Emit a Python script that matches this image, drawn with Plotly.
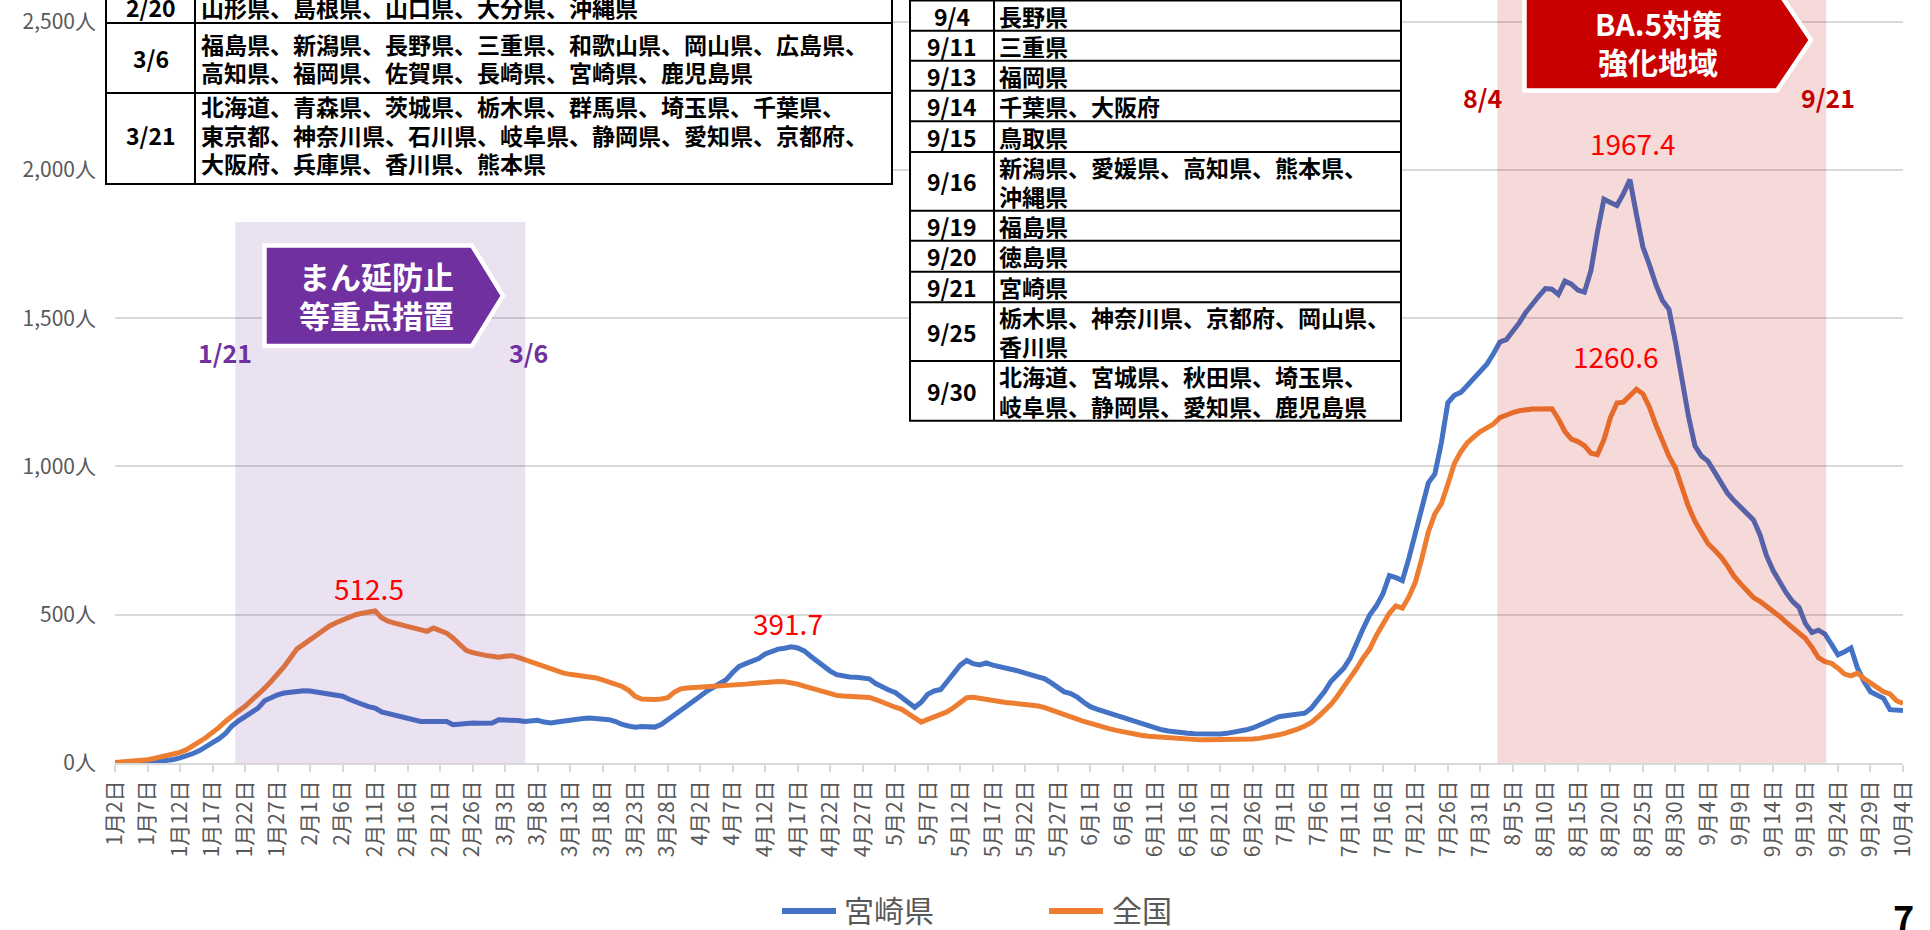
import pandas as pd
import plotly.graph_objects as go

# ---------------- data ----------------
START_DATE = "2022-01-02"
END_DATE = "2022-10-04"
TICK_STEP = 5

SERIES_NAMES = ["宮崎県", "全国"]
SERIES_COLORS = ["#4472C4", "#ED7D31"]

MIYAZAKI = [
    0, 0, 1, 1, 2, 3, 4, 6, 8, 12,
    17, 23, 32, 42, 54, 67, 82, 100, 125, 142,
    157, 170, 185, 210, 222, 230, 236, 240, 243, 244,
    243, 240, 236, 232, 228, 225, 215, 205, 198, 190,
    185, 172, 166, 164, 157, 148, 143, 140, 140, 140,
    141, 140, 129, 132, 134, 135, 134, 133, 135, 146,
    146, 146, 143, 140, 141, 144, 138, 135, 138, 142,
    144, 147, 150, 152, 151, 149, 146, 140, 130, 125,
    121, 123, 121, 121, 130, 145, 160, 175, 191, 205,
    225, 242, 255, 268, 281, 305, 326, 335, 343, 352,
    368, 378, 384, 387, 391.7, 388, 378, 360, 343, 325,
    310, 298, 292, 290, 289, 287, 284, 268, 255, 246,
    238, 222, 205, 188, 205, 232, 243, 248, 275, 303,
    330, 346, 335, 331, 338, 330, 325, 322, 318, 310,
    303, 296, 290, 284, 270, 255, 240, 234, 222, 205,
    190, 182, 175, 167, 160, 152, 145, 137, 129, 122,
    117, 112, 108, 104, 101, 100, 99, 98, 98, 98,
    98, 100, 103, 107, 112, 118, 128, 140, 148, 156,
    159, 161, 163, 168, 185, 210, 240, 275, 300, 320,
    355, 410, 455, 500, 530, 570, 632, 625, 615, 690,
    775, 870, 945, 975, 1080, 1215, 1240, 1250, 1275, 1295,
    1320, 1345, 1380, 1420, 1428, 1455, 1485, 1520, 1550, 1575,
    1600, 1598, 1580, 1625, 1615, 1595, 1588, 1660, 1790, 1901,
    1890, 1880, 1920, 1967.4, 1850, 1740, 1680, 1613, 1560, 1530,
    1420, 1290, 1170, 1070, 1035, 1018, 980, 940, 910, 885,
    865, 840, 820, 770, 700, 650, 610, 575, 545, 525,
    470, 440, 448, 435, 400, 365, 375, 388, 320, 275,
    240, 228, 218, 180, 177, 177,
]

NATIONAL = [
    2, 3, 5, 7, 9, 11, 15, 20, 25, 30,
    36, 45, 57, 72, 86, 101, 120, 140, 160, 175,
    191, 210, 230, 252, 275, 298, 325, 355, 385, 400,
    416, 430, 445, 462, 473, 483, 492, 500, 505, 508,
    512.5, 490, 478, 472, 466, 461, 456, 450, 444, 455,
    447, 438, 421, 400, 380, 372, 366, 363, 360, 357,
    360, 362, 356, 348, 340, 333, 325, 317, 310, 303,
    299, 296, 294, 292, 287, 280, 272, 265, 258, 245,
    225, 216, 213, 214, 216, 220, 238, 250, 253, 254,
    255, 256, 258, 259, 260, 262, 264, 266, 268, 270,
    273, 275, 275, 274, 272, 266, 259, 252, 245, 238,
    233, 228, 226, 225, 225, 225, 221, 214, 204, 195,
    188, 181, 168, 152, 138, 147, 156, 165, 173, 187,
    205, 220, 222, 218, 212, 208, 206, 204, 202, 200,
    198, 196, 192, 187, 180, 172, 164, 156, 148, 140,
    133, 127, 121, 115, 110, 105, 101, 97, 93, 90,
    88, 86, 84, 82, 81, 80, 79, 78, 78, 78,
    79, 79, 80, 80, 81, 81, 83, 86, 90, 95,
    101, 107, 115, 125, 137, 155, 175, 197, 225, 255,
    285, 320, 355, 385, 430, 470, 505, 530, 522, 560,
    610, 690, 780, 840, 875, 940, 1010, 1050, 1080, 1100,
    1118, 1130, 1143, 1165, 1175, 1182, 1188, 1192, 1194, 1194,
    1194, 1195, 1160, 1118, 1092, 1084, 1070, 1045, 1040, 1090,
    1165, 1214, 1217, 1240, 1260.6, 1245, 1200, 1140, 1085, 1035,
    995, 930, 865, 815, 775, 740, 718, 695, 665, 630,
    605, 580, 558, 545, 530, 515, 495, 475, 455, 435,
    420, 390, 355, 342, 336, 320, 300, 294, 303, 285,
    268, 255, 240, 233, 210, 201,
]

Y_TICKS = [0, 500, 1000, 1500, 2000, 2500]

# peak labels: (series index, day index, value)
PEAK_LABELS = [(1, 40, 512.5), (0, 104, 391.7), (0, 233, 1967.4), (1, 234, 1260.6)]

MANEN_LABEL = ["まん延防止", "等重点措置"]
MANEN_DATES = ["1/21", "3/6"]
BA5_LABEL = ["BA.5対策", "強化地域"]
BA5_DATES = ["8/4", "9/21"]

TABLE1_DATES = ["2/20", "3/6", "3/21"]
TABLE1_TEXT = [
    ["山形県、島根県、山口県、大分県、沖縄県"],
    ["福島県、新潟県、長野県、三重県、和歌山県、岡山県、広島県、",
     "高知県、福岡県、佐賀県、長崎県、宮崎県、鹿児島県"],
    ["北海道、青森県、茨城県、栃木県、群馬県、埼玉県、千葉県、",
     "東京都、神奈川県、石川県、岐阜県、静岡県、愛知県、京都府、",
     "大阪府、兵庫県、香川県、熊本県"],
]
TABLE2_DATES = ["9/4", "9/11", "9/13", "9/14", "9/15", "9/16", "9/19", "9/20", "9/21", "9/25", "9/30"]
TABLE2_TEXT = [
    ["長野県"], ["三重県"], ["福岡県"], ["千葉県、大阪府"], ["鳥取県"],
    ["新潟県、愛媛県、高知県、熊本県、", "沖縄県"],
    ["福島県"], ["徳島県"], ["宮崎県"],
    ["栃木県、神奈川県、京都府、岡山県、", "香川県"],
    ["北海道、宮城県、秋田県、埼玉県、", "岐阜県、静岡県、愛知県、鹿児島県"],
]
PAGE_NUMBER = "7"

# ---------------- layout geometry (pixels) ----------------
W, H = 1930, 930
PL, PR, PT, PB = 115, 1903, 0, 763
Y_TOP = 2500 * (PB - PT) / (PB - 21.7)
FONT = "Noto Sans CJK JP"
GRAY = "#595959"
PURPLE = "#7030A0"
DARKRED = "#C00000"


def px(X):
    return (X - PL) / (PR - PL)


def py(Y):
    return (PB - Y) / (PB - PT)


dates = pd.date_range(START_DATE, END_DATE, freq="D")
categories = [f"{d.month}月{d.day}日" for d in dates]
idx = list(range(len(categories)))

fig = go.Figure()
for name, vals, col in zip(SERIES_NAMES, [MIYAZAKI, NATIONAL], SERIES_COLORS):
    fig.add_trace(go.Scatter(x=idx, y=vals, mode="lines", name=name,
                             line=dict(color=col, width=5), showlegend=False,
                             hoverinfo="x+y"))

shapes = []
annotations = []

# shaded periods (semi-transparent overlays above the lines)
shapes.append(dict(type="rect", xref="x", yref="paper", x0=18.5, x1=63.1, y0=0, y1=py(222),
                   fillcolor=PURPLE, opacity=0.145, line=dict(width=0), layer="above"))
shapes.append(dict(type="rect", xref="x", yref="paper", x0=212.6, x1=263.2, y0=0, y1=1.02,
                   fillcolor=DARKRED, opacity=0.145, line=dict(width=0), layer="above"))


def pentagon(left, top, bottom, shoulder, tip):
    mid = (top + bottom) / 2
    pts = [(left, top), (shoulder, top), (tip, mid), (shoulder, bottom), (left, bottom)]
    return "M" + " L".join(f"{px(a):.5f},{py(b):.5f}" for a, b in pts) + " Z"


shapes.append(dict(type="path", xref="paper", yref="paper",
                   path=pentagon(264.5, 245.5, 346, 472, 503),
                   fillcolor=PURPLE, line=dict(color="white", width=4.5), layer="above"))
shapes.append(dict(type="path", xref="paper", yref="paper",
                   path=pentagon(1524.5, -10.5, 90.5, 1777, 1811),
                   fillcolor="#C80000", line=dict(color="white", width=4.5), layer="above"))


def text(X, Y, s, size, color, bold=False, anchor="center"):
    annotations.append(dict(xref="paper", yref="paper", x=px(X), y=py(Y), text=s,
                            showarrow=False, xanchor=anchor, yanchor="middle",
                            font=dict(family=FONT, size=size, color=color,
                                      weight="bold" if bold else "normal")))


for i, line in enumerate(MANEN_LABEL):
    text(376, 275 + 39 * i, line, 31, "white", True)
for i, line in enumerate(BA5_LABEL):
    text(1658, 23 + 38 * i, line, 30, "white", True)
text(225, 352, MANEN_DATES[0], 25, PURPLE, True)
text(528, 352, MANEN_DATES[1], 25, PURPLE, True)
text(1482, 97, BA5_DATES[0], 25, DARKRED, True)
text(1828, 97, BA5_DATES[1], 25, DARKRED, True)

# peak labels
PEAK_POS = [(369.5, 588), (788, 623), (1633, 143), (1615, 356)]
for (si, d, v), (X, Y) in zip(PEAK_LABELS, PEAK_POS):
    xpix = PL + d * (PR - PL) / (len(idx) - 1)
    ypix = PB - v * (PB - PT) / Y_TOP
    annotations.append(dict(xref="x", yref="y", x=d, y=v, text=f"{v}", showarrow=False,
                            xshift=X - xpix, yshift=ypix - Y, xanchor="center", yanchor="middle",
                            font=dict(family=FONT, size=28, color="#FF0000")))

# ---- table 1 ----
T1L, T1R, T1D = 106, 892, 195
T1_BORDERS = [-40, 23, 93, 184]
shapes.append(dict(type="rect", xref="paper", yref="paper", x0=px(T1L), x1=px(T1R),
                   y0=py(T1_BORDERS[-1]), y1=py(T1_BORDERS[0]), fillcolor="white",
                   line=dict(color="black", width=2), layer="above"))
shapes.append(dict(type="line", xref="paper", yref="paper", x0=px(T1D), x1=px(T1D),
                   y0=py(T1_BORDERS[-1]), y1=py(T1_BORDERS[0]), line=dict(color="black", width=2), layer="above"))
for b in T1_BORDERS[1:-1]:
    shapes.append(dict(type="line", xref="paper", yref="paper", x0=px(T1L), x1=px(T1R),
                       y0=py(b), y1=py(b), line=dict(color="black", width=2), layer="above"))
T1_CENTERS = [7, 58, 134.5]
for d, lines, c in zip(TABLE1_DATES, TABLE1_TEXT, T1_CENTERS):
    text((T1L + T1D) / 2, c, d, 23, "black", True)
    n = len(lines)
    for k, ln in enumerate(lines):
        text(T1D + 4, c + (k - (n - 1) / 2) * 28.5, ln, 23, "black", True, anchor="left")

# ---- table 2 ----
T2L, T2R, T2D = 910, 1401, 994
T2_BORDERS = [0.5, 30.7, 60.7, 90.7, 121.3, 152, 210.7, 240.7, 271.7, 302.3, 361, 420.7]
shapes.append(dict(type="rect", xref="paper", yref="paper", x0=px(T2L), x1=px(T2R),
                   y0=py(T2_BORDERS[-1]), y1=py(T2_BORDERS[0]), fillcolor="white",
                   line=dict(color="black", width=2), layer="above"))
shapes.append(dict(type="line", xref="paper", yref="paper", x0=px(T2D), x1=px(T2D),
                   y0=py(T2_BORDERS[-1]), y1=py(T2_BORDERS[0]), line=dict(color="black", width=2), layer="above"))
for b in T2_BORDERS[1:-1]:
    shapes.append(dict(type="line", xref="paper", yref="paper", x0=px(T2L), x1=px(T2R),
                       y0=py(b), y1=py(b), line=dict(color="black", width=2), layer="above"))
for i, (d, lines) in enumerate(zip(TABLE2_DATES, TABLE2_TEXT)):
    c = (T2_BORDERS[i] + T2_BORDERS[i + 1]) / 2
    text((T2L + T2D) / 2, c, d, 23, "black", True)
    n = len(lines)
    for k, ln in enumerate(lines):
        text(T2D + 3, c + (k - (n - 1) / 2) * 29.5, ln, 23, "black", True, anchor="left")

# ---- legend (drawn) ----
LEG = [(782, 836, 842), (1049, 1103, 1110)]
for (x0, x1, tx), name, col in zip(LEG, SERIES_NAMES, SERIES_COLORS):
    shapes.append(dict(type="line", xref="paper", yref="paper", x0=px(x0), x1=px(x1),
                       y0=py(911), y1=py(911), line=dict(color=col, width=6)))
    text(tx, 909, name, 30, GRAY, anchor="left")

text(1903, 916, PAGE_NUMBER, 36, "black", True)

tickvals = idx[::TICK_STEP]
ticktext = [categories[i] for i in tickvals]

fig.update_layout(
    width=W, height=H, margin=dict(l=PL, r=W - PR, t=PT, b=H - PB, pad=0),
    paper_bgcolor="white", plot_bgcolor="white",
    font=dict(family=FONT, color=GRAY),
    shapes=shapes, annotations=annotations, showlegend=False,
    xaxis=dict(range=[0, len(idx) - 1], tickmode="array", tickvals=tickvals, ticktext=ticktext,
               tickangle=-90, tickfont=dict(family=FONT, size=21, color=GRAY),
               showgrid=False, zeroline=False, showline=True, linecolor="#D9D9D9", linewidth=2,
               ticks="outside", ticklen=7, tickcolor="#D9D9D9", tickwidth=1.5),
    yaxis=dict(range=[0, Y_TOP], tickmode="array", tickvals=Y_TICKS,
               ticktext=[f"{v:,}人" for v in Y_TICKS],
               tickfont=dict(family=FONT, size=21, color=GRAY), ticklabelstandoff=18,
               showgrid=True, gridcolor="#D9D9D9", gridwidth=1.5, zeroline=False, showline=False),
)

fig.write_html("out.html", config={"displayModeBar": False},
               post_script="document.body.style.margin='0px';document.body.style.overflow='hidden';")
